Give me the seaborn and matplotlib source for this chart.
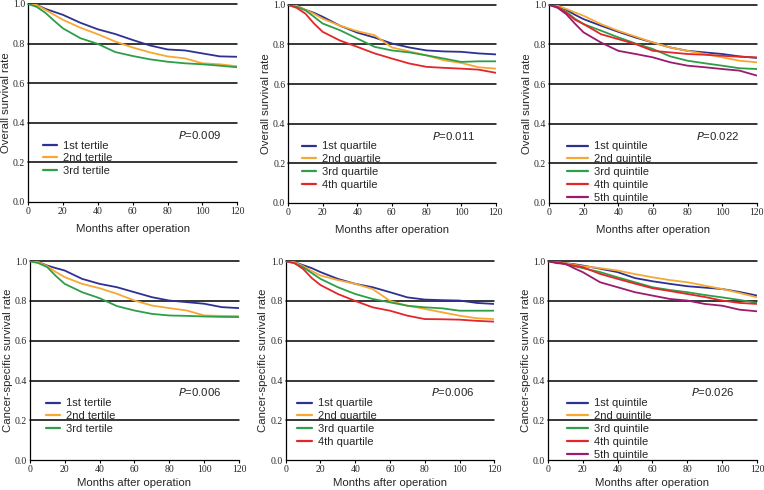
import matplotlib
matplotlib.use('Agg')
import matplotlib.pyplot as plt
import pandas as pd
import seaborn as sns

months = [0, 5, 10, 15, 20, 30, 40, 50, 60, 70, 80, 90, 100, 110, 120]

tertile_labels = ['1st tertile', '2nd tertile', '3rd tertile']
quartile_labels = ['1st quartile', '2nd quartile', '3rd quartile', '4th quartile']
quintile_labels = ['1st quintile', '2nd quintile', '3rd quintile', '4th quintile', '5th quintile']

# overall survival
os_tertile = [
    [1.0, 0.995, 0.975, 0.96, 0.945, 0.905, 0.872, 0.848, 0.818, 0.79, 0.77, 0.765, 0.75, 0.735, 0.733],
    [1.0, 0.995, 0.97, 0.945, 0.92, 0.88, 0.847, 0.81, 0.78, 0.755, 0.735, 0.725, 0.70, 0.695, 0.685],
    [1.0, 0.985, 0.955, 0.915, 0.877, 0.827, 0.798, 0.757, 0.737, 0.72, 0.708, 0.70, 0.695, 0.688, 0.68],
]
os_quartile = [
    [1.0, 0.995, 0.975, 0.96, 0.94, 0.895, 0.86, 0.835, 0.805, 0.785, 0.77, 0.765, 0.763, 0.755, 0.75],
    [1.0, 0.995, 0.975, 0.955, 0.93, 0.895, 0.867, 0.847, 0.785, 0.765, 0.745, 0.72, 0.707, 0.685, 0.678],
    [1.0, 0.99, 0.973, 0.94, 0.906, 0.872, 0.83, 0.788, 0.77, 0.76, 0.745, 0.729, 0.712, 0.715, 0.715],
    [1.0, 0.985, 0.956, 0.906, 0.864, 0.82, 0.788, 0.755, 0.729, 0.704, 0.687, 0.682, 0.678, 0.673, 0.657],
]
os_quintile = [
    [1.0, 0.995, 0.975, 0.95, 0.928, 0.895, 0.864, 0.835, 0.81, 0.785, 0.768, 0.76, 0.752, 0.74, 0.732],
    [1.0, 0.995, 0.98, 0.962, 0.945, 0.903, 0.869, 0.84, 0.81, 0.785, 0.768, 0.752, 0.735, 0.718, 0.71],
    [1.0, 0.99, 0.965, 0.93, 0.903, 0.87, 0.836, 0.805, 0.777, 0.74, 0.718, 0.705, 0.693, 0.68, 0.676],
    [1.0, 0.99, 0.96, 0.925, 0.903, 0.852, 0.827, 0.802, 0.768, 0.76, 0.752, 0.748, 0.743, 0.738, 0.735],
    [1.0, 0.985, 0.953, 0.905, 0.861, 0.81, 0.768, 0.752, 0.735, 0.71, 0.693, 0.685, 0.676, 0.668, 0.643],
]

# cancer-specific survival
css_tertile = [
    [1.0, 0.995, 0.978, 0.965, 0.953, 0.911, 0.886, 0.869, 0.844, 0.819, 0.802, 0.794, 0.786, 0.769, 0.764],
    [1.0, 0.995, 0.975, 0.945, 0.92, 0.886, 0.864, 0.836, 0.802, 0.777, 0.764, 0.752, 0.727, 0.725, 0.724],
    [1.0, 0.99, 0.97, 0.925, 0.886, 0.844, 0.814, 0.774, 0.752, 0.735, 0.727, 0.725, 0.722, 0.72, 0.719],
]
css_quartile = [
    [1.0, 0.995, 0.98, 0.965, 0.945, 0.911, 0.886, 0.869, 0.844, 0.818, 0.807, 0.804, 0.802, 0.79, 0.785],
    [1.0, 0.995, 0.975, 0.95, 0.928, 0.905, 0.886, 0.86, 0.80, 0.776, 0.76, 0.743, 0.726, 0.713, 0.709],
    [1.0, 0.99, 0.97, 0.94, 0.911, 0.869, 0.835, 0.81, 0.793, 0.776, 0.768, 0.763, 0.751, 0.751, 0.751],
    [1.0, 0.99, 0.961, 0.915, 0.88, 0.835, 0.80, 0.768, 0.751, 0.726, 0.709, 0.708, 0.706, 0.70, 0.696],
]
css_quintile = [
    [1.0, 0.995, 0.99, 0.985, 0.978, 0.962, 0.945, 0.915, 0.899, 0.886, 0.874, 0.867, 0.86, 0.845, 0.827],
    [1.0, 0.995, 0.99, 0.982, 0.975, 0.965, 0.953, 0.935, 0.919, 0.905, 0.894, 0.877, 0.86, 0.84, 0.818],
    [1.0, 0.995, 0.985, 0.975, 0.965, 0.945, 0.919, 0.894, 0.869, 0.855, 0.844, 0.83, 0.818, 0.805, 0.79],
    [1.0, 0.995, 0.985, 0.978, 0.97, 0.936, 0.911, 0.887, 0.864, 0.85, 0.835, 0.82, 0.802, 0.79, 0.785],
    [1.0, 0.99, 0.987, 0.965, 0.945, 0.894, 0.869, 0.844, 0.827, 0.81, 0.802, 0.785, 0.776, 0.756, 0.748],
]

p_values = ['0.009', '0.011', '0.022', '0.006', '0.006', '0.026']

navy = '#2e3192'
orange = '#f7a833'
green = '#2e9e48'
red = '#e3262b'
purple = '#9b1b6e'

panels = [
    (os_tertile, tertile_labels, [navy, orange, green], 'Overall survival rate'),
    (os_quartile, quartile_labels, [navy, orange, green, red], 'Overall survival rate'),
    (os_quintile, quintile_labels, [navy, orange, green, red, purple], 'Overall survival rate'),
    (css_tertile, tertile_labels, [navy, orange, green], 'Cancer-specific survival rate'),
    (css_quartile, quartile_labels, [navy, orange, green, red], 'Cancer-specific survival rate'),
    (css_quintile, quintile_labels, [navy, orange, green, red, purple], 'Cancer-specific survival rate'),
]

# axes boxes (left, bottom, width, height) in figure fractions
boxes = [
    (0.0366, 0.588, 0.274, 0.404),
    (0.377, 0.586, 0.272, 0.404),
    (0.7186, 0.586, 0.272, 0.404),
    (0.039, 0.061, 0.274, 0.406),
    (0.374, 0.061, 0.273, 0.406),
    (0.717, 0.061, 0.274, 0.406),
]
legend_x = [0.072, 0.067, 0.087, 0.077, 0.053, 0.091]
handle_len = [1.3, 1.3, 1.9, 1.3, 1.4, 1.9]
p_x = [111, 108.5, 110, 110, 108.5, 107]
xlabel_pad = [6, 6, 6, 3, 3, 3]

sns.set_style('white')
plt.rcParams['font.family'] = ['Liberation Sans', 'DejaVu Sans']

fig = plt.figure(figsize=(7.64, 4.90), dpi=100)

for i, (curves, labels, colors, ylabel) in enumerate(panels):
    ax = fig.add_axes(boxes[i])
    rows = []
    for lab, vals in zip(labels, curves):
        for m, v in zip(months, vals):
            rows.append({'month': m, 'rate': v, 'group': lab})
    df = pd.DataFrame(rows)

    for yv in [0.2, 0.4, 0.6, 0.8, 1.0]:
        ax.axhline(yv, color='black', lw=1.1, clip_on=False, zorder=1)

    sns.lineplot(data=df, x='month', y='rate', hue='group', hue_order=labels,
                 palette=colors, linewidth=1.3, ax=ax, legend=False, zorder=3)

    ax.set_xlim(0, 120)
    ax.set_ylim(0, 1.0)
    ax.set_xticks([0, 20, 40, 60, 80, 100, 120])
    ax.set_yticks([0.0, 0.2, 0.4, 0.6, 0.8, 1.0])
    ax.set_yticklabels(['0.0', '0.2', '0.4', '0.6', '0.8', '1.0'])
    for lbl in ax.get_xticklabels() + ax.get_yticklabels():
        lbl.set_fontfamily('Liberation Serif')
        lbl.set_fontsize(7)
    ax.tick_params(axis='x', length=2.5, width=0.8, pad=1, direction='out',
                   color='black', bottom=True)
    ax.tick_params(axis='y', length=0, pad=2)
    for side in ['top', 'right']:
        ax.spines[side].set_visible(False)
    for side in ['left', 'bottom']:
        ax.spines[side].set_color('black')
        ax.spines[side].set_linewidth(0.9)

    ax.set_xlabel('Months after operation', fontsize=8.2, labelpad=xlabel_pad[i])
    ax.set_ylabel(ylabel, fontsize=8.2, labelpad=1.5)

    handles = [plt.Line2D([], [], color=c, lw=1.6) for c in colors]
    ax.legend(handles, labels, loc='upper left', bbox_to_anchor=(legend_x[i], 0.31),
              frameon=False, fontsize=8, handlelength=handle_len[i], handletextpad=0.5,
              labelspacing=0.25, borderpad=0, borderaxespad=0)

    ax.text(p_x[i], 0.34, r'$\it{P}$=' + p_values[i], ha='right', va='center', fontsize=8.2)

fig.savefig('out.png', dpi=100)
